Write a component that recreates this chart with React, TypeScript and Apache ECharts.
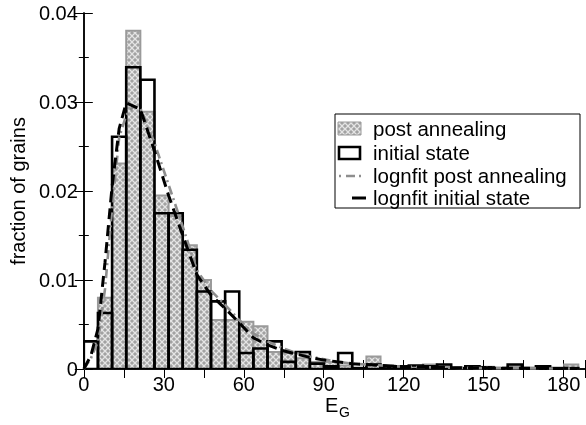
import React, { useEffect, useRef } from "react";
import * as echarts from "echarts";

// ---------- data ----------
const BIN_WIDTH = 5.3; // histogram bin width (E_G units)
const postAnnealing = [
  0.0, 0.008, 0.0231, 0.038, 0.0289, 0.0195, 0.0172, 0.0139, 0.01, 0.0055,
  0.0055, 0.0053, 0.0048, 0.0019, 0.0018, 0.0012, 0.0008, 0.0008, 0.0004, 0.0001,
  0.0014, 0.0004, 0.0003, 0.0003, 0.0005, 0.0003, 0.0001, 0.0003, 0.0002, 0.0001,
  0.0003, 0.0001, 0.0003, 0.0001, 0.0005,
];
const initialState = [
  0.0031, 0.0063, 0.0261, 0.0339, 0.0325, 0.0175, 0.0175, 0.0134, 0.0087, 0.0076,
  0.0087, 0.0018, 0.0023, 0.0031, 0.0008, 0.0019, 0.0006, 0.0003, 0.0018, 0.0001,
  0.0005, 0.0003, 0.0003, 0.0004, 0.0003, 0.0005, 0.0001, 0.0003, 0.0002, 0.0001,
  0.0005, 0.0001, 0.0003, 0.0001, 0.0001,
];
const fitPostX = [0, 2.65, 5.3, 7.95, 10.6, 13.25, 15.9, 18.5, 21.2, 26.5, 31.8, 37.1, 42.4, 47.7, 53, 58.3, 63.6, 68.9, 74.2, 79.5, 84.8, 90.1, 95.4, 100.7, 106, 116.6, 127.2, 148.4, 185];
const fitPostY = [0, 0.0012, 0.0031, 0.009, 0.018, 0.026, 0.0285, 0.0295, 0.0293, 0.0254, 0.0207, 0.016, 0.0111, 0.0088, 0.0072, 0.0055, 0.004, 0.0031, 0.0024, 0.0018, 0.0014, 0.0011, 0.0008, 0.0006, 0.0005, 0.0003, 0.0002, 0.0001, 0.00005];
const fitInitX = [0, 2.65, 5.3, 7.95, 10.6, 13.25, 15.9, 21.2, 26.5, 31.8, 37.1, 42.4, 47.7, 53, 58.3, 63.6, 68.9, 74.2, 79.5, 84.8, 90.1, 95.4, 100.7, 106, 116.6, 127.2, 148.4, 185];
const fitInitY = [0, 0.0015, 0.0045, 0.012, 0.0205, 0.027, 0.0299, 0.0292, 0.0245, 0.0195, 0.015, 0.0106, 0.0083, 0.0068, 0.0052, 0.0035, 0.0027, 0.0021, 0.0017, 0.0013, 0.001, 0.0008, 0.0006, 0.0005, 0.0003, 0.0002, 0.0001, 0.00005];
const yTicks = [0, 0.01, 0.02, 0.03, 0.04];
const legendLabels = ["post annealing", "initial state", "lognfit post annealing", "lognfit initial state"];

const FONT = "'Liberation Sans', Arial, Helvetica, sans-serif";

function makePattern(): HTMLCanvasElement {
  const c = document.createElement("canvas");
  c.width = 6;
  c.height = 6;
  const ctx = c.getContext("2d")!;
  ctx.fillStyle = "#a2a2a2";
  ctx.fillRect(0, 0, 6, 6);
  ctx.strokeStyle = "#e4e4e4";
  ctx.lineWidth = 1.3;
  ctx.beginPath();
  ctx.moveTo(-1, -1); ctx.lineTo(7, 7);
  ctx.moveTo(7, -1); ctx.lineTo(-1, 7);
  ctx.stroke();
  return c;
}

function toBins(vals: number[]) {
  return vals.map((v, i) => [i * BIN_WIDTH, (i + 1) * BIN_WIDTH, v]);
}

export default function App() {
  const ref = useRef<HTMLDivElement>(null);
  useEffect(() => {
    if (!ref.current) return;
    const chart = echarts.init(ref.current, null, { renderer: "svg" });
    const pattern = { image: makePattern(), repeat: "repeat" } as any;

    const barItem = (fill: any, stroke: string, lw: number) => (params: any, api: any) => {
      const x0 = api.value(0), x1 = api.value(1), y = api.value(2);
      if (!(y > 0)) return null;
      const p0 = api.coord([x0, y]);
      const p1 = api.coord([x1, 0]);
      return {
        type: "rect",
        shape: { x: p0[0], y: p0[1], width: p1[0] - p0[0], height: p1[1] - p0[1] },
        style: { fill, stroke, lineWidth: lw },
      };
    };

    const axisLine = { show: true, lineStyle: { color: "#000", width: 1.5 } };
    const xCommon = {
      type: "value",
      min: 0,
      max: 188,
      interval: 30,
      axisLine,
      splitLine: { show: false },
      axisTick: { show: true, inside: true, length: 9, lineStyle: { color: "#000", width: 1 } },
      minorTick: { show: true, splitNumber: 2, length: 9, lineStyle: { color: "#000", width: 1 } },
    };
    const yCommon = {
      type: "value",
      min: 0,
      max: 0.04,
      interval: 0.01,
      axisLine,
      splitLine: { show: false },
      axisTick: { show: true, inside: true, length: 9, lineStyle: { color: "#000", width: 1 } },
      minorTick: { show: true, splitNumber: 2, length: 5, lineStyle: { color: "#000", width: 1 } },
    };

    const lx = 335, ly = 114;
    chart.setOption({
      animation: false,
      grid: { left: 79, right: 1, top: 13, bottom: 56, containLabel: false },
      xAxis: [
        {
          ...xCommon,
          position: "bottom",
          axisLabel: { show: true, color: "#000", fontSize: 20, fontFamily: FONT, margin: 5, showMaxLabel: false },
        },
        { ...xCommon, position: "top", axisLabel: { show: false } },
      ],
      yAxis: [
        {
          ...yCommon,
          position: "left",
          name: "fraction of grains",
          nameLocation: "middle",
          nameGap: 52,
          nameTextStyle: { color: "#000", fontSize: 20, fontFamily: FONT },
          axisLabel: {
            show: true,
            color: "#000",
            fontSize: 20,
            fontFamily: FONT,
            margin: 6,
            formatter: (v: number) => (yTicks.includes(v) ? (v === 0 ? "0" : v.toFixed(2)) : ""),
          },
        },
        { ...yCommon, position: "right", axisLabel: { show: false } },
      ],
      series: [
        {
          type: "custom",
          name: legendLabels[0],
          renderItem: barItem(pattern, "#9a9a9a", 2),
          data: toBins(postAnnealing),
          encode: { x: [0, 1], y: 2 },
          clip: true,
        },
        {
          type: "custom",
          name: legendLabels[1],
          renderItem: barItem("none", "#000", 2.6),
          data: toBins(initialState),
          encode: { x: [0, 1], y: 2 },
          clip: true,
        },
        {
          type: "line",
          name: legendLabels[2],
          data: fitPostX.map((x, i) => [x, fitPostY[i]]),
          symbol: "none",
          lineStyle: { color: "#8e8e8e", width: 2.6, type: [9, 4, 2, 4] },
        },
        {
          type: "line",
          name: legendLabels[3],
          data: fitInitX.map((x, i) => [x, fitInitY[i]]),
          symbol: "none",
          lineStyle: { color: "#000", width: 3, type: [11, 6] },
        },
      ],
      graphic: [
        {
          type: "rect",
          shape: { x: lx, y: ly, width: 245, height: 94 },
          style: { fill: "#fff", stroke: "#000", lineWidth: 1 },
          z: 100,
        },
        {
          type: "rect",
          shape: { x: 338, y: 122, width: 23, height: 13 },
          style: { fill: pattern, stroke: "#9a9a9a", lineWidth: 1 },
          z: 101,
        },
        {
          type: "rect",
          shape: { x: 339, y: 147, width: 21, height: 12 },
          style: { fill: "none", stroke: "#000", lineWidth: 2.6 },
          z: 101,
        },
        {
          type: "line",
          shape: { x1: 339, y1: 176, x2: 364, y2: 176 },
          style: { stroke: "#8e8e8e", lineWidth: 2.6, lineDash: [2, 5, 9, 4] },
          z: 101,
        },
        {
          type: "line",
          shape: { x1: 352, y1: 198, x2: 366, y2: 198 },
          style: { stroke: "#000", lineWidth: 3 },
          z: 101,
        },
        ...legendLabels.map((t, i) => ({
          type: "text",
          x: 373,
          y: [128, 152, 175, 197][i],
          style: { text: t, fill: "#000", fontSize: 20.5, fontFamily: FONT, textVerticalAlign: "middle" },
          z: 101,
        })),
        {
          type: "text",
          x: 325,
          y: 395,
          style: { text: "E", fill: "#000", fontSize: 20, fontFamily: FONT },
          z: 101,
        },
        {
          type: "text",
          x: 339,
          y: 405,
          style: { text: "G", fill: "#000", fontSize: 14, fontFamily: FONT },
          z: 101,
        },
      ],
    });
    return () => chart.dispose();
  }, []);
  return <div ref={ref} style={{ position: "fixed", left: 0, top: 0, width: 586, height: 425 }} />;
}
